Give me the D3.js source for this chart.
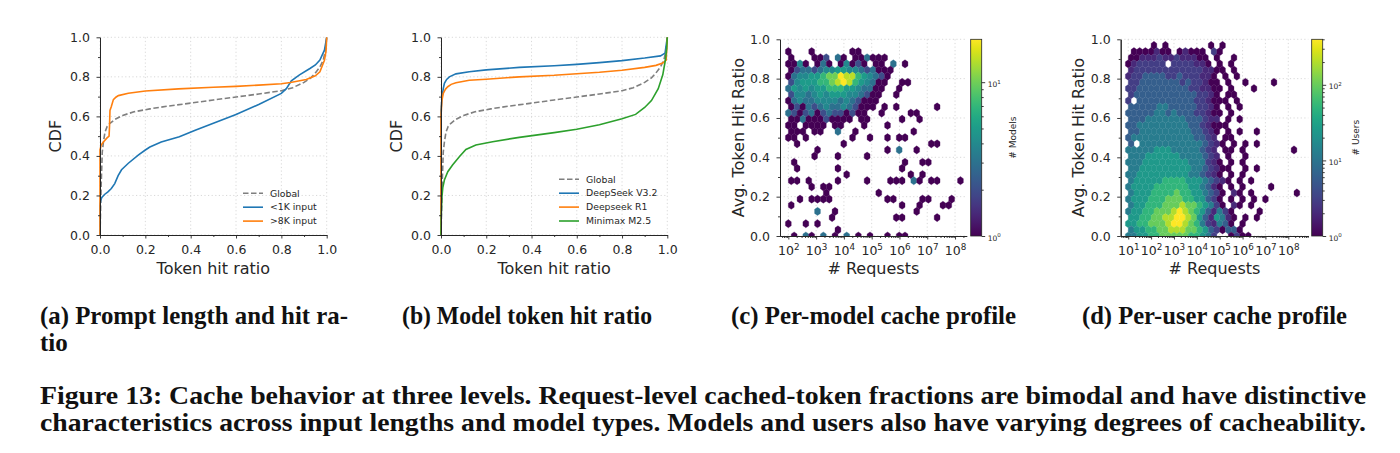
<!DOCTYPE html>
<html>
<head>
<meta charset="utf-8">
<script src="https://cdn.jsdelivr.net/npm/d3@7/dist/d3.min.js"></script>
<style>
  body { margin: 0; background: #fff; }
  text { font-family: "DejaVu Sans", sans-serif; }
  .cap { font-family: "Liberation Serif", serif; font-weight: bold; font-size: 25px; fill: #111; }
</style>
</head>
<body>
<svg id="fig" width="1400" height="453"></svg>
<script>
// ---------- values ----------
var ratioTicks = [0, 0.2, 0.4, 0.6, 0.8, 1.0];
var ratioMinor = [0.1, 0.3, 0.5, 0.7, 0.9];

// CDF curves as [token hit ratio, cdf]
var globalCdf = [[0,0],[0.005,0.25],[0.01,0.42],[0.015,0.47],[0.022,0.52],[0.032,0.55],[0.044,0.565],
  [0.066,0.585],[0.1,0.605],[0.15,0.623],[0.22,0.638],[0.3,0.652],[0.4,0.667],[0.5,0.683],[0.6,0.698],
  [0.7,0.713],[0.8,0.73],[0.85,0.745],[0.9,0.772],[0.93,0.795],[0.95,0.82],[0.97,0.85],[0.985,0.885],
  [0.995,0.94],[1.0,1.0]];
var shortInputCdf = [[0,0],[0,0.15],[0.003,0.175],[0.008,0.19],[0.02,0.205],[0.035,0.218],[0.05,0.235],
  [0.065,0.26],[0.08,0.3],[0.095,0.33],[0.125,0.363],[0.17,0.405],[0.2,0.43],[0.22,0.445],[0.27,0.47],
  [0.35,0.497],[0.42,0.53],[0.5,0.565],[0.6,0.61],[0.7,0.66],[0.8,0.716],[0.822,0.74],[0.844,0.78],
  [0.88,0.81],[0.926,0.842],[0.95,0.86],[0.97,0.885],[0.99,0.935],[1.0,1.0]];
var longInputCdf = [[0,0],[0,0.43],[0.005,0.455],[0.015,0.47],[0.03,0.49],[0.04,0.5],[0.042,0.55],
  [0.044,0.63],[0.05,0.65],[0.059,0.685],[0.07,0.697],[0.081,0.705],[0.125,0.717],[0.2,0.728],
  [0.346,0.739],[0.5,0.747],[0.6,0.752],[0.7,0.758],[0.8,0.765],[0.84,0.771],[0.91,0.787],[0.95,0.805],
  [0.97,0.825],[0.99,0.884],[0.997,0.93],[1.0,1.0]];
var dsV32Cdf = [[0,0],[0,0.63],[0.005,0.7],[0.01,0.74],[0.015,0.767],[0.025,0.787],[0.037,0.8],
  [0.066,0.815],[0.125,0.826],[0.2,0.835],[0.346,0.848],[0.5,0.856],[0.6,0.863],[0.7,0.872],
  [0.8,0.882],[0.9,0.895],[0.97,0.906],[0.99,0.92],[1.0,1.0]];
var dsR1Cdf = [[0,0],[0,0.6],[0.004,0.68],[0.01,0.717],[0.02,0.738],[0.03,0.75],[0.045,0.762],
  [0.066,0.77],[0.125,0.783],[0.2,0.788],[0.346,0.8],[0.5,0.808],[0.6,0.816],[0.7,0.823],[0.8,0.833],
  [0.9,0.848],[0.95,0.858],[0.98,0.87],[0.995,0.885],[1.0,1.0]];
var minimaxCdf = [[0,0],[0.001,0.09],[0.004,0.19],[0.008,0.24],[0.015,0.278],[0.03,0.32],[0.051,0.354],
  [0.081,0.396],[0.11,0.433],[0.154,0.455],[0.228,0.472],[0.346,0.494],[0.5,0.518],[0.6,0.535],
  [0.7,0.558],[0.8,0.588],[0.86,0.61],[0.9,0.645],[0.93,0.68],[0.96,0.74],[0.98,0.81],[0.99,0.875],
  [0.997,0.94],[1.0,1.0]];

var legendA = ["Global", "<1K input", ">8K input"];
var legendB = ["Global", "DeepSeek V3.2", "Deepseek R1", "Minimax M2.5"];

// hexbin cells: one string per hex row (top row first), one char per column,
// "." = empty, digit/letter = count level (looked up in the *LevelCounts arrays)
var modelHexRows = [
  ".",
  "1...1......11",
  "1...112.31.113111",
  "1141.131.14121.11.3.1",
  "123323445544323111",
  "134455677988654321",
  "24555667898654311..11",
  "35454556665543311..1",
  "2443454555443211..1",
  "1343344443432111",
  "121323433432111.1.1......1",
  "32123123221211..1....11",
  "11311121111.11.....1..1",
  "11.1111.11...1...1",
  "111.11..3..1.........1",
  "11.1.......1..1..1.11",
  ".1.......1..............11",
  ".....1...........1.3..1",
  "....1...1....1",
  ".1..................1..11",
  ".1......1..........1",
  "..........1..........1.1",
  "11.1....1....1...111.31.11...1",
  "....1.11",
  "......1........1",
  "..1.1111.........11....11...1",
  "1..................1..1...11",
  ".....3..1.............1",
  ".......1..........11.....1",
  "1..1.1",
  "........1",
  ".1.31.3.1.3.1.1..1.11"
];
var modelLevelCounts = [0, 1, 2, 3, 4, 5, 7, 10, 14, 19];

var userHexRows = [
  "....1.1.......1.1",
  ".1111211.12111.31",
  "11222322322211.1..1",
  "1233333.3333221.1.1",
  "23333333333332211.1",
  "2334444334333221.1.1",
  "3344444443433211.1..1....1",
  "33444444444332211.1...1",
  "3444444444443321.11",
  "3.4444444444332111.1",
  "4444455444443321.1.1",
  "44444554544433211.1",
  "4445555555444322.1.1",
  "445555555554432111",
  "4455555555544321.1.1..1",
  "4555555555554432.11",
  "4.555555555554321.1.1.1",
  "5555566655555432.11.1........1",
  "5556666665555432.1..1",
  "55566666666555321.1.1",
  "556666666665543211..1.1",
  "55666666666554321.1.1",
  "566666777766654321.1.1",
  "56666777777665421.1.1....1",
  "56667777877665431.21.1.......1",
  "56667778887766431.1.1.1.1",
  "56677788898876531.21.1",
  "566778889a987642531....1",
  "66778899aa986426521.1.1",
  "66778889aa987532541.1",
  "56677889998876431441",
  "5566778888877653..1311"
];
var userLevelCounts = [0, 1, 2, 3, 6, 12, 25, 50, 100, 200, 400];

var modelDecades = [2, 3, 4, 5, 6, 7, 8];
var userDecades = [1, 2, 3, 4, 5, 6, 7, 8];

var subCaptions = ["(a) Prompt length and hit ra-", "tio", "(b) Model token hit ratio",
  "(c) Per-model cache profile", "(d) Per-user cache profile"];
var figCaption = [
  "Figure 13: Cache behavior at three levels. Request-level cached-token fractions are bimodal and have distinctive",
  "characteristics across input lengths and model types. Models and users also have varying degrees of cacheability."
];

// ---------- drawing ----------
var svg = d3.select("#fig");
var ink = "#262626";
var tickFont = 12.5;
var labelFont = 16;

function styleAxis(sel) {
  sel.select(".domain").attr("stroke", ink).attr("stroke-width", 1);
  sel.selectAll(".tick line").attr("stroke", ink).attr("stroke-width", 0.9);
  sel.selectAll(".tick text").attr("fill", ink).attr("font-size", tickFont);
}

function drawGrid(g, xs, ys, box) {
  xs.forEach(function(v) {
    g.append("line").attr("x1", v).attr("x2", v).attr("y1", box.top).attr("y2", box.bottom)
      .attr("stroke", "#cfcfcf").attr("stroke-width", 0.8).attr("stroke-dasharray", "1.2,2.4");
  });
  ys.forEach(function(v) {
    g.append("line").attr("x1", box.left).attr("x2", box.right).attr("y1", v).attr("y2", v)
      .attr("stroke", "#cfcfcf").attr("stroke-width", 0.8).attr("stroke-dasharray", "1.2,2.4");
  });
}

function ratioAxisLeft(g, y, box) {
  g.append("g").attr("transform", "translate(" + box.left + ",0)")
    .call(d3.axisLeft(y).tickValues(ratioMinor).tickSize(2).tickFormat("").tickSizeOuter(0))
    .call(styleAxis);
  g.append("g").attr("transform", "translate(" + box.left + ",0)")
    .call(d3.axisLeft(y).tickValues(ratioTicks).tickSize(3.5).tickPadding(6.5)
      .tickFormat(d3.format(".1f")).tickSizeOuter(0))
    .call(styleAxis);
}

function axisLabels(g, box, xText, yText, yLabelX) {
  g.append("text").attr("x", (box.left + box.right) / 2).attr("y", 274)
    .attr("text-anchor", "middle").attr("font-size", labelFont).attr("fill", ink).text(xText);
  g.append("text")
    .attr("transform", "translate(" + yLabelX + "," + ((box.top + box.bottom) / 2) + ") rotate(-90)")
    .attr("text-anchor", "middle").attr("dy", "0.35em")
    .attr("font-size", labelFont).attr("fill", ink).text(yText);
}

function cdfPanel(box, series, leg) {
  var x = d3.scaleLinear().domain([0, 1]).range([box.left, box.right]);
  var y = d3.scaleLinear().domain([0, 1]).range([box.bottom, box.top]);
  var g = svg.append("g");
  drawGrid(g, ratioTicks.map(x), ratioTicks.map(y), box);

  var line = d3.line().x(function(d) { return x(d[0]); }).y(function(d) { return y(d[1]); });
  series.forEach(function(s) {
    g.append("path").attr("d", line(s.data)).attr("fill", "none")
      .attr("stroke", s.color).attr("stroke-width", 1.6)
      .attr("stroke-dasharray", s.dash || null);
  });

  ratioAxisLeft(g, y, box);
  g.append("g").attr("transform", "translate(0," + box.bottom + ")")
    .call(d3.axisBottom(x).tickValues(ratioMinor).tickSize(2).tickFormat("").tickSizeOuter(0))
    .call(styleAxis);
  g.append("g").attr("transform", "translate(0," + box.bottom + ")")
    .call(d3.axisBottom(x).tickValues(ratioTicks).tickSize(3.5).tickPadding(7)
      .tickFormat(d3.format(".1f")).tickSizeOuter(0))
    .call(styleAxis);

  series.forEach(function(s, i) {
    var ly = leg.top + i * leg.step;
    g.append("line").attr("x1", leg.x).attr("x2", leg.x + 20).attr("y1", ly).attr("y2", ly)
      .attr("stroke", s.color).attr("stroke-width", 1.6).attr("stroke-dasharray", s.dash || null);
    g.append("text").attr("x", leg.x + 27).attr("y", ly).attr("dy", "0.35em")
      .attr("font-size", 9.3).attr("fill", ink).text(s.name);
  });

  axisLabels(g, box, "Token hit ratio", "CDF", box.left - 45);
}

function powTick(sel, base, sup) {
  sel.selectAll(".tick text").each(function(d) {
    var t = d3.select(this).text(null);
    t.append("tspan").attr("font-size", base).text("10");
    t.append("tspan").attr("font-size", sup).attr("dy", -base * 0.42)
      .text(Math.round(Math.log10(d)));
  });
}

function minorLog(lo, hi) {
  var out = [];
  for (var e = Math.floor(Math.log10(lo)); e <= Math.ceil(Math.log10(hi)); e++) {
    for (var m = 2; m <= 9; m++) {
      var v = m * Math.pow(10, e);
      if (v >= lo && v <= hi) out.push(v);
    }
  }
  return out;
}

var gradCount = 0;
function colorbar(box, maxCount, majors, label, labelX) {
  var id = "vir" + (gradCount++);
  var grad = svg.append("defs").append("linearGradient").attr("id", id)
    .attr("x1", 0).attr("y1", 1).attr("x2", 0).attr("y2", 0);
  d3.range(0, 1.0001, 0.05).forEach(function(t) {
    grad.append("stop").attr("offset", t).attr("stop-color", d3.interpolateViridis(t));
  });
  var cy = d3.scaleLog().domain([1, maxCount]).range([box.bottom, box.top]);
  var g = svg.append("g");
  g.append("rect").attr("x", box.left).attr("y", box.top).attr("width", box.right - box.left)
    .attr("height", box.bottom - box.top).attr("fill", "url(#" + id + ")")
    .attr("stroke", ink).attr("stroke-width", 0.8);
  g.append("g").attr("transform", "translate(" + box.right + ",0)")
    .call(d3.axisRight(cy).tickValues(minorLog(1, maxCount)).tickSize(2).tickFormat("").tickSizeOuter(0))
    .call(styleAxis).call(function(s) { s.select(".domain").remove(); });
  g.append("g").attr("transform", "translate(" + box.right + ",0)")
    .call(d3.axisRight(cy).tickValues(majors).tickSize(3.5).tickPadding(2.5).tickSizeOuter(0))
    .call(styleAxis).call(function(s) { s.select(".domain").remove(); })
    .call(powTick, 7.5, 5.5);
  g.append("text")
    .attr("transform", "translate(" + labelX + "," + ((box.top + box.bottom) / 2) + ") rotate(-90)")
    .attr("text-anchor", "middle").attr("dy", "0.35em").attr("font-size", 9).attr("fill", ink)
    .text(label);
}

function hexPanel(box, logDomain, decades, hex, cbar) {
  var x = d3.scaleLog().domain([Math.pow(10, logDomain[0]), Math.pow(10, logDomain[1])])
    .range([box.left, box.right]);
  var y = d3.scaleLinear().domain([0, 1]).range([box.bottom, box.top]);
  var g = svg.append("g");
  var clipId = "clip" + hex.name;
  svg.append("clipPath").attr("id", clipId).append("rect")
    .attr("x", box.left).attr("y", box.top).attr("width", box.right - box.left)
    .attr("height", box.bottom - box.top);

  var decadeVals = decades.map(function(e) { return Math.pow(10, e); });
  drawGrid(g, decadeVals.map(x), ratioTicks.map(y), box);

  var maxCount = hex.levels[hex.levels.length - 1];
  var shape = [[0.5, -0.5], [0.5, 0.5], [0, 1], [-0.5, 0.5], [-0.5, -0.5], [0, -1]];
  var cells = [];
  var nRows = hex.rows.length;
  hex.rows.forEach(function(row, k) {
    var j = nRows - 1 - k;
    row.split("").forEach(function(ch, i) {
      if (ch === ".") return;
      var lvl = parseInt(ch, 36);
      var lx = hex.x0 + i * hex.sx + (j % 2 ? hex.sx / 2 : 0);
      cells.push({lx: lx, y: j * hex.sy / 2, count: hex.levels[lvl]});
    });
  });
  var color = function(c) { return d3.interpolateViridis(Math.log(c) / Math.log(maxCount)); };
  g.append("g").attr("clip-path", "url(#" + clipId + ")")
    .selectAll("polygon").data(cells).enter().append("polygon")
    .attr("points", function(d) {
      return shape.map(function(p) {
        return x(Math.pow(10, d.lx + p[0] * hex.sx)) + "," + y(d.y + p[1] * hex.sy / 3);
      }).join(" ");
    })
    .attr("fill", function(d) { return color(d.count); })
    .attr("stroke", function(d) { return color(d.count); })
    .attr("stroke-width", 0.3);

  ratioAxisLeft(g, y, box);
  g.append("g").attr("transform", "translate(0," + box.bottom + ")")
    .call(d3.axisBottom(x).tickValues(minorLog(x.domain()[0], x.domain()[1])).tickSize(2)
      .tickFormat("").tickSizeOuter(0))
    .call(styleAxis);
  g.append("g").attr("transform", "translate(0," + box.bottom + ")")
    .call(d3.axisBottom(x).tickValues(decadeVals).tickSize(3.5).tickPadding(7).tickSizeOuter(0))
    .call(styleAxis).call(powTick, tickFont, 8.8);

  axisLabels(g, box, "# Requests", "Avg. Token Hit Ratio", box.left - 42);
  colorbar(cbar.box, maxCount, cbar.majors, cbar.label, cbar.labelX);
}

// panel (a)
cdfPanel({left: 100, right: 326.7, top: 37.3, bottom: 235}, [
  {name: legendA[0], data: globalCdf, color: "#7f7f7f", dash: "5.5,2.5"},
  {name: legendA[1], data: shortInputCdf, color: "#1f77b4"},
  {name: legendA[2], data: longInputCdf, color: "#ff7f0e"}
], {x: 243, top: 193.3, step: 13.9});

// panel (b)
cdfPanel({left: 441, right: 667.3, top: 37.3, bottom: 235}, [
  {name: legendB[0], data: globalCdf, color: "#7f7f7f", dash: "5.5,2.5"},
  {name: legendB[1], data: dsV32Cdf, color: "#1f77b4"},
  {name: legendB[2], data: dsR1Cdf, color: "#ff7f0e"},
  {name: legendB[3], data: minimaxCdf, color: "#2ca02c"}
], {x: 559, top: 179.3, step: 13.9});

// panel (c)
hexPanel({left: 780, right: 966.7, top: 39.3, bottom: 236}, [1.70, 8.42], modelDecades,
  {name: "c", rows: modelHexRows, levels: modelLevelCounts, x0: 2.0, sx: 0.21, sy: 0.0625},
  {box: {left: 970.7, right: 981.7, top: 39.3, bottom: 236}, majors: [1, 10],
   label: "# Models", labelX: 1013.3});

// panel (d)
hexPanel({left: 1120.7, right: 1308.3, top: 39.3, bottom: 236}, [0.67, 8.875], userDecades,
  {name: "d", rows: userHexRows, levels: userLevelCounts, x0: 1.0, sx: 0.25, sy: 0.0625},
  {box: {left: 1311.7, right: 1322.7, top: 39.3, bottom: 236}, majors: [1, 10, 100],
   label: "# Users", labelX: 1356});

// captions
var capSpec = [
  {x: 40, y: 324, w: 308}, {x: 40, y: 351, w: null}, {x: 402, y: 324, w: 250},
  {x: 731, y: 324, w: 285}, {x: 1082, y: 324, w: 265}
];
subCaptions.forEach(function(t, i) {
  var el = svg.append("text").attr("class", "cap").attr("x", capSpec[i].x).attr("y", capSpec[i].y).text(t);
  if (capSpec[i].w) el.attr("textLength", capSpec[i].w).attr("lengthAdjust", "spacingAndGlyphs");
});
figCaption.forEach(function(t, i) {
  svg.append("text").attr("class", "cap").attr("x", 40).attr("y", 404 + i * 27)
    .attr("textLength", 1326).attr("lengthAdjust", "spacingAndGlyphs").text(t);
});
</script>
</body>
</html>
